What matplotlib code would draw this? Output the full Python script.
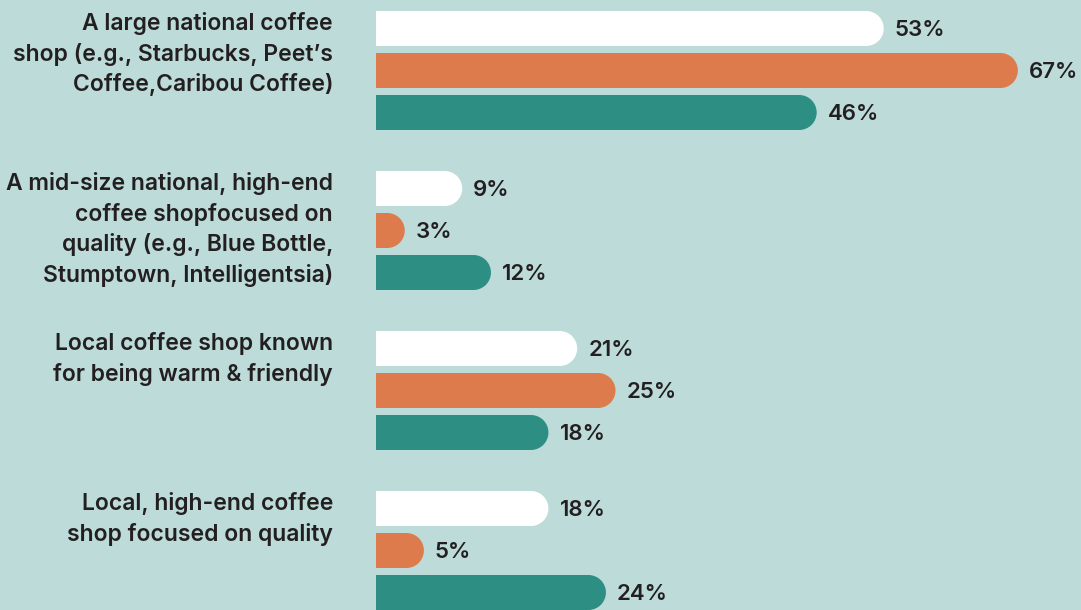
import matplotlib
matplotlib.use("Agg")
import matplotlib.pyplot as plt
from matplotlib.path import Path
from matplotlib.patches import PathPatch

# survey answers, one list per series (top, middle, bottom bar of each group)
categories = [
    "A large national coffee\nshop (e.g., Starbucks, Peet\u2019s\nCoffee,Caribou Coffee)",
    "A mid-size national, high-end\ncoffee shopfocused on\nquality (e.g., Blue Bottle,\nStumptown, Intelligentsia)",
    "Local coffee shop known\nfor being warm & friendly",
    "Local, high-end coffee\nshop focused on quality",
]
series_a = [53, 9, 21, 18]
series_b = [67, 3, 25, 5]
series_c = [46, 12, 18, 24]

colors = ["#ffffff", "#dd7b4c", "#2d8e84"]
bg = "#bcdbd9"
ink = "#231f20"

W, H = 1081, 610
x0 = 376          # pixel where the bars start
px_per_pct = 9.58
bar_h = 35
bar_step = 42
group_step = 160
first_top = 11

plt.rcParams["font.family"] = ["Inter", "DejaVu Sans"]

fig = plt.figure(figsize=(W / 100, H / 100), dpi=100, facecolor=bg)
ax = fig.add_axes([0, 0, 1, 1])
ax.set_facecolor(bg)
ax.set_xlim(-x0 / px_per_pct, (W - x0) / px_per_pct)
ax.set_ylim(H, 0)
ax.axis("off")

rx = (bar_h / 2) / px_per_pct
arc = Path.arc(-90, 90)


def rounded_bar(v, yc, color):
    av = arc.vertices * [rx, bar_h / 2] + [v - rx, yc]
    verts = [(0, yc - bar_h / 2)] + [tuple(p) for p in av] + [(0, yc + bar_h / 2), (0, yc - bar_h / 2)]
    codes = [Path.MOVETO, Path.LINETO] + list(arc.codes[1:]) + [Path.LINETO, Path.CLOSEPOLY]
    ax.add_patch(PathPatch(Path(verts, codes), facecolor=color, edgecolor="none"))


for g, label in enumerate(categories):
    top = first_top + g * group_step
    ax.text(-43 / px_per_pct, top + 1, label, ha="right", va="top",
            fontsize=16.5, fontweight=600, color=ink, linespacing=1.43)
    for k, vals in enumerate([series_a, series_b, series_c]):
        v = vals[g]
        yc = top + bar_h / 2 + k * bar_step
        rounded_bar(v, yc, colors[k])
        ax.text(v + 11 / px_per_pct, yc + 1, f"{v}%", ha="left", va="center",
                fontsize=16, fontweight=600, color=ink)

fig.savefig("out.png", dpi=100, facecolor=bg)
